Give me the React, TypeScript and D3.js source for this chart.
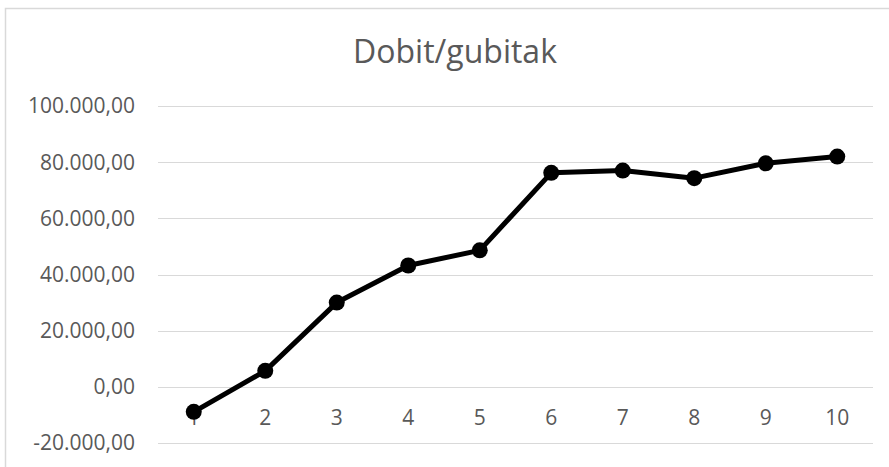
import React, { useEffect, useRef } from 'react';
import * as d3 from 'd3';

const categories = ['1', '2', '3', '4', '5', '6', '7', '8', '9', '10'];
const values = [-8900, 5700, 30000, 43200, 48600, 76200, 77000, 74300, 79600, 82000];
const yTicks = [-20000, 0, 20000, 40000, 60000, 80000, 100000];
const title = 'Dobit/gubitak';

const W = 889;
const H = 467;

export default function App() {
  const ref = useRef<SVGSVGElement>(null);

  useEffect(() => {
    const svg = d3.select(ref.current);
    svg.selectAll('*').remove();

    const font = "'Open Sans', sans-serif";
    const locale = d3.formatLocale({
      decimal: ',',
      thousands: '.',
      grouping: [3],
      currency: ['', ''],
      minus: '-'
    });
    const fmt = locale.format(',.2f');

    const x = d3.scaleBand().domain(categories).range([158, 873]);
    const y = d3.scaleLinear().domain([-20000, 100000]).range([443, 106]);

    svg
      .append('rect')
      .attr('x', 5.5)
      .attr('y', 8.5)
      .attr('width', 950)
      .attr('height', 550)
      .attr('fill', 'white')
      .attr('stroke', '#d9d9d9')
      .attr('stroke-width', 1.5);

    svg
      .append('text')
      .attr('x', 455)
      .attr('y', 63)
      .attr('text-anchor', 'middle')
      .style('font-family', font)
      .style('font-size', '32px')
      .attr('fill', '#595959')
      .text(title);

    // grid
    svg
      .append('g')
      .selectAll('line')
      .data(yTicks)
      .enter()
      .append('line')
      .attr('x1', 158)
      .attr('x2', 873)
      .attr('y1', d => Math.round(y(d)) + 0.5)
      .attr('y2', d => Math.round(y(d)) + 0.5)
      .attr('stroke', '#d9d9d9')
      .attr('stroke-width', 1);

    // y labels
    svg
      .append('g')
      .selectAll('text')
      .data(yTicks)
      .enter()
      .append('text')
      .attr('x', 135)
      .attr('y', d => y(d))
      .attr('dy', '0.35em')
      .attr('text-anchor', 'end')
      .style('font-family', font)
      .style('font-size', '21px')
      .attr('fill', '#595959')
      .text(d => fmt(d));

    // x labels
    svg
      .append('g')
      .selectAll('text')
      .data(categories)
      .enter()
      .append('text')
      .attr('x', d => (x(d) as number) + x.bandwidth() / 2)
      .attr('y', 425)
      .attr('text-anchor', 'middle')
      .style('font-family', font)
      .style('font-size', '21px')
      .attr('fill', '#595959')
      .text(d => d);

    const pts = categories.map((c, i) => ({ c, v: values[i] }));
    const line = d3
      .line<{ c: string; v: number }>()
      .x(d => (x(d.c) as number) + x.bandwidth() / 2)
      .y(d => y(d.v));

    svg
      .append('path')
      .datum(pts)
      .attr('d', line)
      .attr('fill', 'none')
      .attr('stroke', '#000')
      .attr('stroke-width', 5)
      .attr('stroke-linejoin', 'round');

    svg
      .append('g')
      .selectAll('circle')
      .data(pts)
      .enter()
      .append('circle')
      .attr('cx', d => (x(d.c) as number) + x.bandwidth() / 2)
      .attr('cy', d => y(d.v))
      .attr('r', 8)
      .attr('fill', '#000');
  }, []);

  return (
    <svg
      ref={ref}
      width={W}
      height={H}
      style={{ position: 'absolute', left: 0, top: 0, background: 'white' }}
    />
  );
}
